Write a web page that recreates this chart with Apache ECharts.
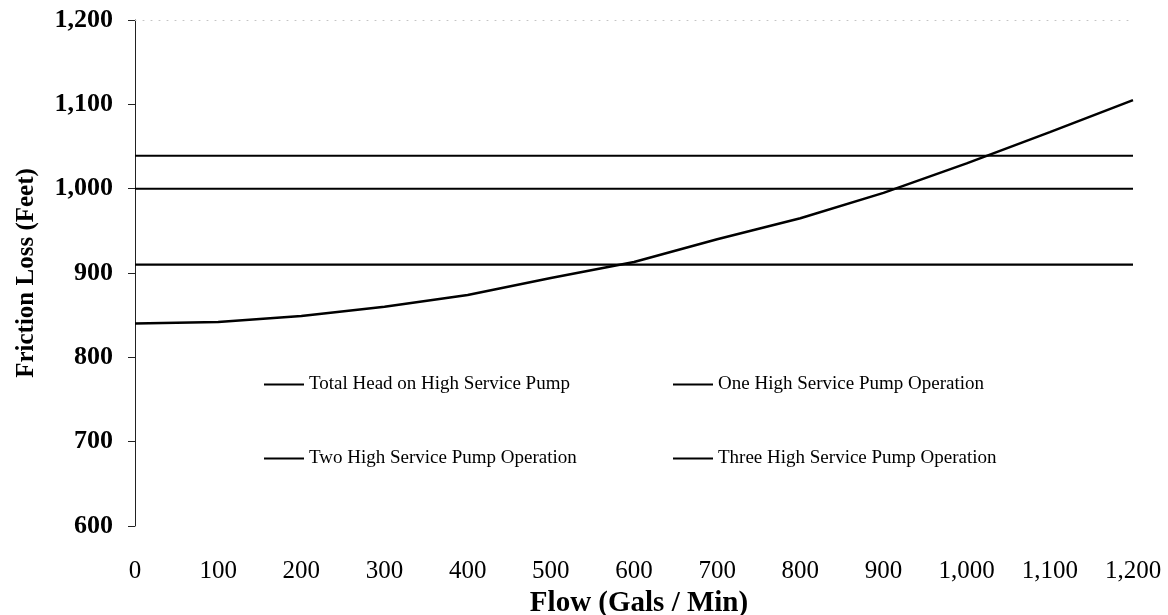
<!DOCTYPE html>
<html>
<head>
<meta charset="utf-8">
<script src="https://cdn.jsdelivr.net/npm/echarts@6/dist/echarts.min.js"></script>
<style>
html,body{margin:0;padding:0;background:#fff;}
#chart{width:1168px;height:615px;}
</style>
</head>
<body>
<div id="chart"></div>
<script>
// Flow (gal/min) and total head (ft)
var flows = [0, 100, 200, 300, 400, 500, 600, 700, 800, 900, 1000, 1100, 1200];
var totalHead = [840, 842, 849, 860, 874, 894, 913, 940, 965, 995, 1030, 1067, 1105];
// Horizontal operating lines, drawn between these flow limits
var flowEnds = [0, 1200];
var onePump = [910, 910];
var twoPump = [1000, 1000];
var threePump = [1039, 1039];
var seriesNames = ['Total Head on High Service Pump', 'One High Service Pump Operation',
                   'Two High Service Pump Operation', 'Three High Service Pump Operation'];

function pairs(xs, ys) { return xs.map(function (x, i) { return [x, ys[i]]; }); }
function fmt(v) { return v.toLocaleString('en-US'); }

var FONT = 'Liberation Serif';
var chart = echarts.init(document.getElementById('chart'));
var legendBase = {
  icon: 'rect', itemWidth: 40, itemHeight: 2, itemGap: 5, orient: 'horizontal', padding: 0,
  textStyle: { fontFamily: FONT, fontSize: 19, color: '#000' },
  inactiveColor: '#000', selectedMode: false
};
function legendAt(name, left, top) {
  return Object.assign({}, legendBase, { data: [name], left: left, top: top });
}
chart.setOption({
  animation: false,
  backgroundColor: '#fff',
  grid: { left: 135, right: 35, top: 20, bottom: 89, outerBoundsMode: 'none', containLabel: false },
  legend: [
    legendAt(seriesNames[0], 264, 375),
    legendAt(seriesNames[1], 673, 375),
    legendAt(seriesNames[2], 264, 449),
    legendAt(seriesNames[3], 673, 449)
  ],
  xAxis: [{
    type: 'value', min: 0, max: 1200, interval: 100,
    name: 'Flow (Gals / Min)', nameLocation: 'middle', nameGap: 62,
    nameTextStyle: { fontFamily: FONT, fontSize: 29, fontWeight: 'bold', color: '#000', padding: [0, 0, 0, 10] },
    axisLine: { show: false }, axisTick: { show: false }, splitLine: { show: false },
    axisLabel: { fontFamily: FONT, fontSize: 25, color: '#000', margin: 33, formatter: fmt }
  }, {
    type: 'value', position: 'top', min: 0, max: 1200,
    axisLine: { show: true, lineStyle: { color: '#c4c4c4', type: [1, 7], width: 1 } },
    axisTick: { show: false }, axisLabel: { show: false }, splitLine: { show: false }
  }],
  yAxis: {
    type: 'value', min: 600, max: 1200, interval: 100,
    name: 'Friction Loss (Feet)', nameLocation: 'middle', nameGap: 96,
    nameTextStyle: { fontFamily: FONT, fontSize: 25, fontWeight: 'bold', color: '#000' },
    axisLine: { show: true, lineStyle: { color: '#222', width: 1 } },
    axisTick: { show: true, length: 7, lineStyle: { color: '#222' } },
    splitLine: { show: false },
    axisLabel: { fontFamily: FONT, fontSize: 26, fontWeight: 'bold', color: '#000', margin: 22, formatter: fmt }
  },
  series: [
    { name: seriesNames[0], type: 'line', data: pairs(flows, totalHead), showSymbol: false,
      lineStyle: { color: '#000', width: 2.5 }, itemStyle: { color: '#000' } },
    { name: seriesNames[1], type: 'line', data: pairs(flowEnds, onePump), showSymbol: false,
      lineStyle: { color: '#000', width: 2.2 }, itemStyle: { color: '#000' } },
    { name: seriesNames[2], type: 'line', data: pairs(flowEnds, twoPump), showSymbol: false,
      lineStyle: { color: '#000', width: 2 }, itemStyle: { color: '#000' } },
    { name: seriesNames[3], type: 'line', data: pairs(flowEnds, threePump), showSymbol: false,
      lineStyle: { color: '#000', width: 2 }, itemStyle: { color: '#000' } }
  ]
});
</script>
</body>
</html>
